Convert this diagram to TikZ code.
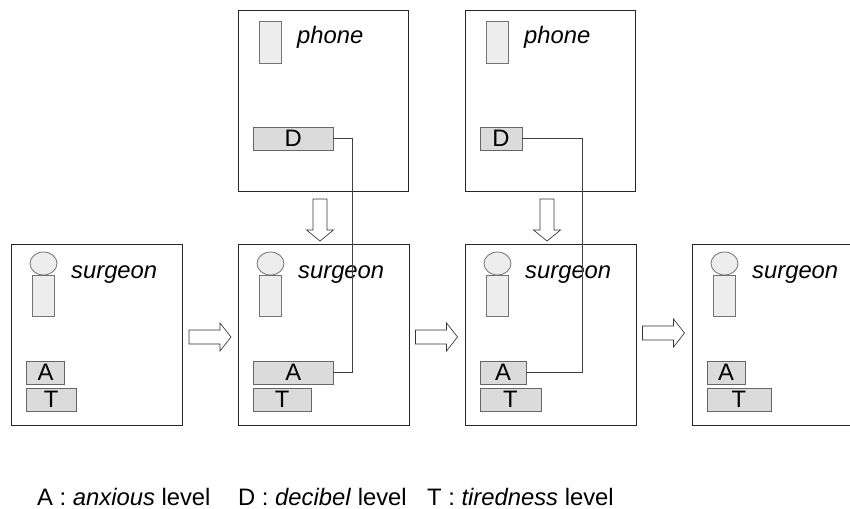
\documentclass[tikz,border=0pt]{standalone}
\usepackage{fontspec}
\setmainfont{Liberation Sans}
\tikzset{
  x=1pt,y=-1pt,
  frame/.style={draw=black!85,line width=0.9pt,fill=white},
  grp/.style={draw=black!55,line width=0.8pt,fill=black!7},
  lev/.style={draw=black!60,line width=0.9pt,fill=black!14,inner sep=0pt,font=\fontsize{23.8}{24}\selectfont},
  wire/.style={draw=black!75,line width=0.75pt},
  blk/.style={draw=black!80,line width=0.65pt,fill=white},
  lab/.style={inner sep=0pt,font=\fontsize{23.8}{24}\selectfont\itshape},
  leg/.style={inner sep=0pt,anchor=base west,font=\fontsize{23.8}{24}\selectfont}
}
\newcommand{\levbox}[6]{% name x1 x2 y1 y2 text
  \node[lev,minimum width=#3pt-#2pt,minimum height=#5pt-#4pt] (#1) at ({(#2+#3)/2},{(#4+#5)/2}) {#6};}
\newcommand{\surg}[2]{% name offset
  \draw[frame] (#2+11,244) rectangle (#2+182,425);
  \draw[grp] (#2+32.5,275) rectangle (#2+54.5,316);
  \draw[grp] (#2+43.5,263.5) ellipse [x radius=13.5,y radius=11.5];
  \node[lab,anchor=base west] (#1) at (#2+71,278) {surgeon};}
\newcommand{\phon}[2]{%
  \draw[frame] (#2+238,10) rectangle (#2+408.5,191);
  \draw[grp] (#2+259.5,21.5) rectangle (#2+281.5,63);
  \node[lab,anchor=base west] (#1) at (#2+297,43.5) {phone};}
\newcommand{\rarrow}[3]{% x1 x2 ymid
  \draw[blk] (#1,#3-7) -- (#2-11,#3-7) -- (#2-11,#3-14) -- (#2,#3) -- (#2-11,#3+14) -- (#2-11,#3+7) -- (#1,#3+7) -- cycle;}
\newcommand{\darrow}[1]{%
  \draw[blk] (#1-7,199) -- (#1+7,199) -- (#1+7,230) -- (#1+13.5,230) -- (#1,241) -- (#1-13.5,230) -- (#1-7,230) -- cycle;}
\begin{document}
\begin{tikzpicture}
\useasboundingbox (0,0) rectangle (850,508);
\surg{s1}{0}
\surg{s2}{227}
\surg{s3}{454}
\surg{s4}{681}
\phon{p1}{0}
\phon{p2}{227}
\rarrow{189}{231}{337}
\rarrow{415.5}{457.5}{337}
\rarrow{642.5}{684.5}{333}
\darrow{320}
\darrow{547}
\levbox{a1}{26.5}{64.5}{361}{384}{A}
\levbox{t1}{26.5}{76}{388}{411}{T}
\levbox{a2}{253.5}{333}{361}{384}{A}
\levbox{t2}{253.5}{311}{388}{411}{T}
\levbox{a3}{480}{526}{361}{384}{A}
\levbox{t3}{480}{541}{388}{411}{T}
\levbox{a4}{707}{745}{361}{384}{A}
\levbox{t4}{707}{771}{388}{411}{T}
\levbox{d1}{253.5}{333}{127}{150}{D}
\levbox{d2}{480}{522}{127}{150}{D}
\draw[wire] (d1.east) -- (352.5,138.5) -- (352.5,372.5) -- (a2.east);
\draw[wire] (d2.east) -- (582.5,138.5) -- (582.5,372.5) -- (a3.east);
\node[leg] (l1) at (37,505) {A : \textit{anxious} level};
\node[leg] (l2) at (238,505) {D : \textit{decibel} level};
\node[leg] (l3) at (427,505) {T : \textit{tiredness} level};
\end{tikzpicture}
\end{document}
